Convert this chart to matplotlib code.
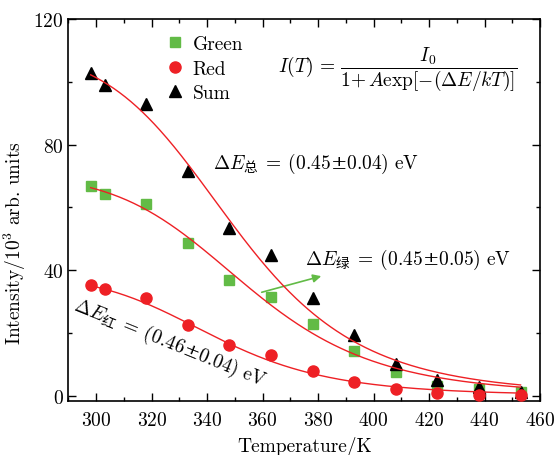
import numpy as np
import matplotlib
matplotlib.use("Agg")
import matplotlib.pyplot as plt
from matplotlib.lines import Line2D
from matplotlib.ticker import MultipleLocator

plt.rcParams['font.family'] = ['cmr10', 'Noto Sans CJK SC', 'DejaVu Sans']
plt.rcParams['axes.formatter.use_mathtext'] = True
plt.rcParams['mathtext.fontset'] = 'custom'
plt.rcParams['mathtext.rm'] = 'cmr10'
plt.rcParams['mathtext.it'] = 'cmmi10'
plt.rcParams['mathtext.bf'] = 'cmb10'
plt.rcParams['mathtext.sf'] = 'Noto Sans CJK SC'
plt.rcParams['mathtext.cal'] = 'DejaVu Serif'
plt.rcParams['mathtext.fallback'] = 'cm'

# ---- data ----
temperature = [298, 303, 318, 333, 348, 363, 378, 393, 408, 423, 438, 453]
green = [66.9, 64.2, 61.0, 48.5, 36.7, 31.4, 22.7, 14.2, 7.5, 3.2, 2.0, 1.3]
red = [35.4, 34.1, 31.2, 22.4, 16.2, 12.8, 7.7, 4.5, 2.1, 0.9, 0.3, 0.2]
total = [102.8, 99.0, 93.0, 71.6, 53.5, 44.7, 31.2, 19.2, 10.2, 5.1, 2.6, 1.2]

# fit parameters of I(T) = I0 / (1 + A exp(-dE/kT))
fit_names = ['Sum', 'Green', 'Red']
fit_I0 = [110.2, 70.4, 38.6]
fit_A = [3.19e6, 2.55e6, 6.14e6]
fit_dE = [0.45, 0.45, 0.46]
k_B = 8.617e-5
fit_T_range = [298, 453]

xticks = [300, 320, 340, 360, 380, 400, 420, 440, 460]
yticks = [0, 40, 80, 120]

GREEN = '#62bb46'
RED = '#ee2025'

fig = plt.figure(figsize=(5.56, 4.56), dpi=100)
ax = fig.add_axes([0.1232, 0.1178, 0.8480, 0.8383])

ax.plot(temperature, green, linestyle='none', marker='s', ms=6.5, color=GREEN, zorder=3)
ax.plot(temperature, total, linestyle='none', marker='^', ms=9, color='black', zorder=3)
ax.plot(temperature, red, linestyle='none', marker='o', ms=8, color=RED, zorder=3)

T = np.linspace(fit_T_range[0], fit_T_range[1], 300)
for I0, A, dE in zip(fit_I0, fit_A, fit_dE):
    ax.plot(T, I0 / (1 + A * np.exp(-dE / (k_B * T))), color=RED, lw=1.0, zorder=4)

ax.set_xlim(290, 460)
ax.set_ylim(-1.8, 120)
ax.set_xticks(xticks)
ax.set_yticks(yticks)
ax.xaxis.set_minor_locator(MultipleLocator(10))
ax.yaxis.set_minor_locator(MultipleLocator(20))
ax.tick_params(which='both', direction='in', top=True, right=True, labelsize=14, width=1.0)
ax.tick_params(which='major', length=5.5)
ax.tick_params(which='minor', length=3)
ax.tick_params(axis='x', pad=7)
for s in ax.spines.values():
    s.set_linewidth(1.2)

ax.set_xlabel('Temperature/K', fontsize=14, labelpad=5)
ax.set_ylabel(r'Intensity/$10^3$ arb. units', fontsize=14)
ax.yaxis.set_label_coords(-0.085, 0.415)

handles = [
    Line2D([], [], linestyle='none', marker='s', ms=6.5, color=GREEN),
    Line2D([], [], linestyle='none', marker='o', ms=8, color=RED),
    Line2D([], [], linestyle='none', marker='^', ms=9, color='black'),
]
ax.legend(handles, ['Green', 'Red', 'Sum'], loc='upper left', bbox_to_anchor=(0.173, 0.998),
          frameon=False, fontsize=14, handlelength=1.0, handletextpad=0.4,
          labelspacing=0.33, borderpad=0.3)

ax.text(365.5, 104.4, r'$I(T)\,=\,\dfrac{I_0}{1{+}\,A\mathrm{exp}[-(\Delta E/kT)]}$',
        fontsize=14, ha='left', va='center')
ax.text(342.1, 72.4, r'$\Delta E_{\mathsf{总}}\:=\:(0.45\mathcal{\pm}0.04)\ \mathrm{eV}$',
        fontsize=14, ha='left', va='baseline')
ax.text(375.2, 42.1, r'$\Delta E_{\mathsf{绿}}\:=\:(0.45\mathcal{\pm}0.05)\ \mathrm{eV}$',
        fontsize=14, ha='left', va='baseline')
ax.text(291.5, 27.8, r'$\Delta E_{\mathsf{红}}\:=\:(0.46\mathcal{\pm}0.04)\ \mathrm{eV}$',
        fontsize=14, ha='left', va='baseline', rotation=-22, rotation_mode='anchor')

ax.annotate('', xy=(382.1, 38.3), xytext=(358.7, 32.7),
            arrowprops=dict(arrowstyle='-|>', color=GREEN, lw=1.2, mutation_scale=12))

fig.savefig('out.png', dpi=100)
